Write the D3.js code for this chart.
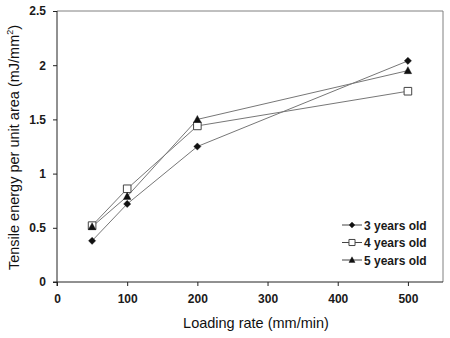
<!DOCTYPE html>
<html>
<head>
<meta charset="utf-8">
<script src="https://cdn.jsdelivr.net/npm/d3@7"></script>
<style>
  html, body { margin: 0; padding: 0; background: #fff; }
  svg { display: block; font-family: Arial, "Liberation Sans", sans-serif; }
</style>
</head>
<body>
<svg id="chart" width="450" height="338"></svg>
<script>
// Loading rates (mm/min)
const rates = [50, 100, 200, 500];
// Tensile energy per unit area (mJ/mm^2) by age group
const threeYears = [0.38, 0.72, 1.25, 2.04];
const fourYears = [0.52, 0.86, 1.44, 1.76];
const fiveYears = [0.51, 0.79, 1.50, 1.95];
const seriesNames = ["3 years old", "4 years old", "5 years old"];
const xTicks = [0, 100, 200, 300, 400, 500];
const yTicks = [0, 0.5, 1, 1.5, 2, 2.5];

const series = [
  { name: seriesNames[0], values: threeYears, shape: "diamond" },
  { name: seriesNames[1], values: fourYears, shape: "square" },
  { name: seriesNames[2], values: fiveYears, shape: "triangle" }
];

const svg = d3.select("#chart");
const m = { left: 57, right: 443, top: 11, bottom: 282 };

const x = d3.scaleLinear().domain([0, 550]).range([m.left, m.right]);
const y = d3.scaleLinear().domain([0, 2.5]).range([m.bottom, m.top]);

// Top and right frame
svg.append("path")
  .attr("d", `M${m.left},${m.top}H${m.right}V${m.bottom}`)
  .attr("fill", "none").attr("stroke", "#808080").attr("stroke-width", 1);

const xAxis = svg.append("g")
  .attr("transform", `translate(0,${m.bottom})`)
  .call(d3.axisBottom(x).tickValues(xTicks).tickSize(4).tickPadding(8).tickFormat(d3.format("d")));
const yAxis = svg.append("g")
  .attr("transform", `translate(${m.left},0)`)
  .call(d3.axisLeft(y).tickValues(yTicks).tickSize(4).tickPadding(7).tickFormat(d => d3.format("")(d)));

[xAxis, yAxis].forEach(g => {
  g.select(".domain").attr("stroke", "#222").attr("stroke-width", 1);
  g.selectAll(".tick line").attr("stroke", "#222");
  g.selectAll("text").attr("font-size", 12).attr("font-weight", "bold").attr("fill", "#1a1a1a")
    .attr("font-family", "Arial, 'Liberation Sans', sans-serif");
});
xAxis.select(".domain").attr("d", `M${m.left},4V0H${m.right}`);
yAxis.select(".domain").attr("d", `M-4,${m.bottom}H0V${m.top}`);

// Axis titles
svg.append("text")
  .attr("x", (m.left + m.right) / 2 + 6).attr("y", 328)
  .attr("text-anchor", "middle").attr("font-size", 14.5).attr("fill", "#111")
  .text("Loading rate (mm/min)");

const yt = svg.append("text")
  .attr("transform", `translate(19,${(m.top + m.bottom) / 2 + 1}) rotate(-90)`)
  .attr("text-anchor", "middle").attr("font-size", 14.5).attr("fill", "#111");
yt.append("tspan").text("Tensile energy per unit area (mJ/mm");
yt.append("tspan").attr("font-size", 9).attr("dy", -6).text("2");
yt.append("tspan").attr("dy", 6).text(")");

const line = d3.line().x((d, i) => x(rates[i])).y(d => y(d));

// Marker outlines, scaled by half-width r
function markerPath(shape, r) {
  if (shape === "diamond") return `M0,${-r}L${r},0L0,${r}L${-r},0Z`;
  if (shape === "square") return `M${-r},${-r}H${r}V${r}H${-r}Z`;
  return `M0,${-r * 1.05}L${r},${r * 0.8}H${-r}Z`;
}

function drawMarker(g, shape, cx, cy, scale) {
  const r = (shape === "diamond" ? 3.6 : shape === "square" ? 3.8 : 3.8) * scale;
  g.append("path")
    .attr("d", markerPath(shape, r))
    .attr("transform", `translate(${cx},${cy})`)
    .attr("fill", shape === "square" ? "#fff" : "#111")
    .attr("stroke", shape === "square" ? "#444" : "#111")
    .attr("stroke-width", shape === "square" ? 1 : 0.4);
}

series.forEach(s => {
  svg.append("path")
    .datum(s.values)
    .attr("d", line)
    .attr("fill", "none").attr("stroke", "#777").attr("stroke-width", 1);
});
series.forEach(s => {
  const g = svg.append("g");
  s.values.forEach((v, i) => drawMarker(g, s.shape, x(rates[i]), y(v), 1));
});

// Legend
const legend = svg.append("g");
series.forEach((s, i) => {
  const ly = 225 + i * 17.5;
  legend.append("line")
    .attr("x1", 342).attr("x2", 362).attr("y1", ly).attr("y2", ly)
    .attr("stroke", "#444").attr("stroke-width", 1);
  drawMarker(legend, s.shape, 352, ly, 0.8);
  legend.append("text")
    .attr("x", 364).attr("y", ly + 4.5)
    .attr("font-size", 12).attr("font-weight", "bold").attr("fill", "#1a1a1a")
    .text(s.name);
});
</script>
</body>
</html>
